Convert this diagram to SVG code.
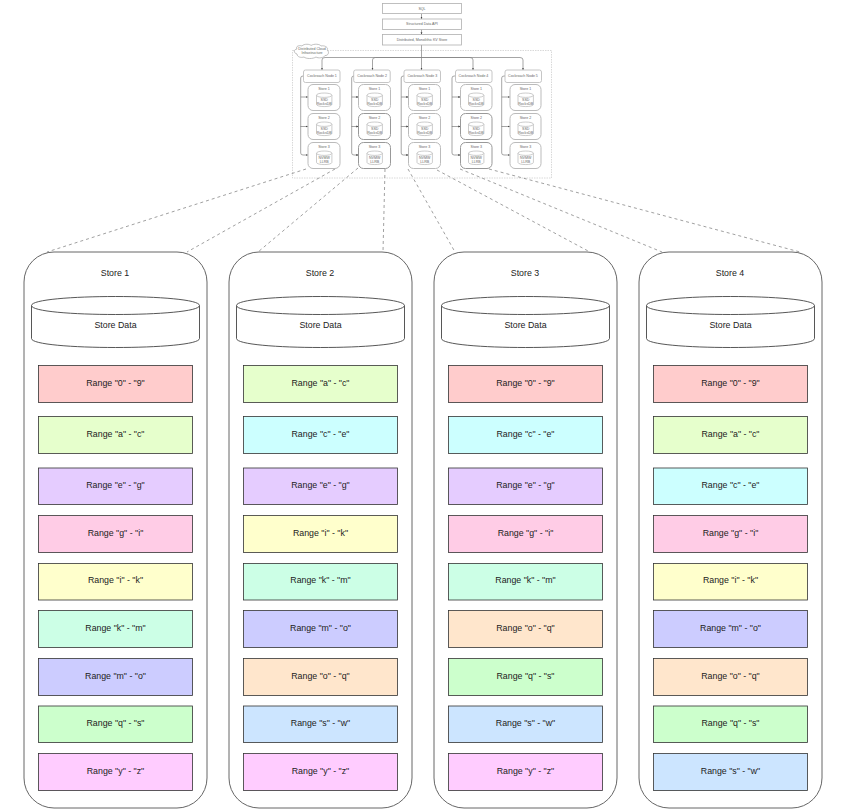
<svg xmlns="http://www.w3.org/2000/svg" width="851" height="811" viewBox="0 0 851 811">
<style>
text{font-family:"Liberation Sans",Arial,sans-serif;text-anchor:middle;dominant-baseline:central;fill:#222}
.lg{font-size:8.8px;transform:translateY(-.5px)}
.sm{font-size:3.6px;fill:#666}
.box{fill:#fff;stroke:#b0b0b0;stroke-width:.8}
.node{fill:#fff;stroke:#b8b8b8;stroke-width:.8}
.sstore{fill:#fff;stroke:#bbb;stroke-width:1}
.sstore.hi{stroke:#999;stroke-width:1}
.store{fill:#fff;stroke:#666;stroke-width:1}
.cyl{fill:#fff;stroke:#444;stroke-width:.9}
.scyl{fill:#fff;stroke:#aaa;stroke-width:.6}
.range{stroke:#333;stroke-width:.8}
.wire{fill:none;stroke:#808080;stroke-width:.7}
.dash{fill:none;stroke:#777;stroke-width:.7;stroke-dasharray:3 3}
.frame{fill:none;stroke:#c8c8c8;stroke-width:.7;stroke-dasharray:1.5 1}
.c0{fill:#ffcccc}.ca{fill:#e6ffcc}.cc{fill:#ccffff}.ce{fill:#e5ccff}.cg{fill:#ffcce6}.ci{fill:#ffffcc}
.ck{fill:#ccffe6}.cm{fill:#ccccff}.co{fill:#ffe6cc}.cq{fill:#ccffcc}.cs{fill:#cce5ff}.cy{fill:#ffccff}
</style>
<defs>
<marker id="tip" viewBox="0 0 6 6" refX="5.500" refY="3" markerWidth="3.500" markerHeight="3.500" orient="auto"><path d="M0 .8L6 3L0 5.200z" fill="#444"/></marker>
<g id="bigcyl"><path class="cyl" d="M0 9C0 -3 168 -3 168 9V42C168 54 0 54 0 42z"/><path class="cyl" d="M0 9C0 21 168 21 168 9"/></g>
<g id="minicyl"><path class="scyl" d="M0 2.200C0 -.7 15.400 -.7 15.400 2.200V11.400C15.400 14.300 0 14.300 0 11.400z"/><path class="scyl" d="M0 2.200C0 5.100 15.400 5.100 15.400 2.200"/></g>
</defs>

<rect class="frame" x="292.500" y="50.500" width="259" height="127.500"/>

<g id="connectors">
<path class="wire" marker-end="url(#tip)" d="M421.500 13.500V19"/>
<path class="wire" marker-end="url(#tip)" d="M421.500 29.500V34.500"/>
<path class="wire" marker-end="url(#tip)" d="M421.500 45V70"/>
<path class="wire" marker-end="url(#tip)" d="M421.500 57.500H325Q322 57.500 322 60V70"/>
<path class="wire" marker-end="url(#tip)" d="M421.500 57.500H375.500Q372.500 57.500 372.500 60V70"/>
<path class="wire" marker-end="url(#tip)" d="M421.500 57.500H470Q473 57.500 473 60V70"/>
<path class="wire" marker-end="url(#tip)" d="M421.500 57.500H520Q523 57.500 523 60V70"/>
<g id="node-1-links"><path class="wire" marker-end="url(#tip)" d="M303.500 76H303Q300.700 76 300.700 78V97H308"/><path class="wire" marker-end="url(#tip)" d="M300.700 97V126.500H308"/><path class="wire" marker-end="url(#tip)" d="M300.700 126V153Q300.700 155 303 155H308"/></g>
<g id="node-2-links"><path class="wire" marker-end="url(#tip)" d="M353.700 76H354Q351.700 76 351.700 78V97H358.500"/><path class="wire" marker-end="url(#tip)" d="M351.700 97V126.500H358.500"/><path class="wire" marker-end="url(#tip)" d="M351.700 126V153Q351.700 155 354 155H358.500"/></g>
<g id="node-3-links"><path class="wire" marker-end="url(#tip)" d="M404 76H403.500Q401.200 76 401.200 78V97H408.500"/><path class="wire" marker-end="url(#tip)" d="M401.200 97V126.500H408.500"/><path class="wire" marker-end="url(#tip)" d="M401.200 126V153Q401.200 155 403.500 155H408.500"/></g>
<g id="node-4-links"><path class="wire" marker-end="url(#tip)" d="M455.500 76H454.300Q452 76 452 78V97H460.500"/><path class="wire" marker-end="url(#tip)" d="M452 97V126.500H460.500"/><path class="wire" marker-end="url(#tip)" d="M452 126V153Q452 155 454.300 155H460.500"/></g>
<g id="node-5-links"><path class="wire" marker-end="url(#tip)" d="M505 76H504Q501.700 76 501.700 78V97H510"/><path class="wire" marker-end="url(#tip)" d="M501.700 97V126.500H510"/><path class="wire" marker-end="url(#tip)" d="M501.700 126V153Q501.700 155 504 155H510"/></g>
<g id="zoom-links">
<path class="dash" d="M306 169L47 252"/><path class="dash" d="M335 169L187 252"/>
<path class="dash" d="M358 168L258 252"/><path class="dash" d="M385 169L383 252"/>
<path class="dash" d="M408 169L455 252"/><path class="dash" d="M437 170L590 252"/>
<path class="dash" d="M460 169L662 252"/><path class="dash" d="M489 169L800 252"/>
</g>
</g>

<g id="sql"><rect class="box" x="382.500" y="3.500" width="79" height="10"/><text class="sm" x="422" y="8.500">SQL</text></g>
<g id="data-api"><rect class="box" x="382.500" y="19" width="79" height="10.500"/><text class="sm" x="422" y="24.200">Structured Data API</text></g>
<g id="kv-store"><rect class="box" x="382.500" y="34.500" width="79" height="10.500"/><text class="sm" x="422" y="39.700">Distributed, Monolithic KV Store</text></g>

<g id="cloud"><path fill="#fff" stroke="#b0b0b0" stroke-width=".8" d="M297 54C293 53 294 49 297 49C295 46 300 45 302 46C304 43.500 310 44 311 45.500C314 43.500 320 44 321 46C325 45 329 48 327 50C330 52 328 56 325 55.500C324 58 318 58.500 316 57C313 59 306 59 304 57C301 58 297 57 297 54z"/><text class="sm" x="312" y="48.500">Distributed Cloud</text><text class="sm" x="312" y="53">Infrastructure</text></g>

<g id="cockroach-node-1"><rect class="node" x="303.500" y="70" width="36.500" height="12.500" rx="2"/><text class="sm" x="322" y="76.200">Cockroach Node 1</text></g>
<g id="cockroach-node-2"><rect class="node" x="353.700" y="70" width="36.500" height="12.500" rx="2"/><text class="sm" x="372.200" y="76.200">Cockroach Node 2</text></g>
<g id="cockroach-node-3"><rect class="node" x="404" y="70" width="36.500" height="12.500" rx="2"/><text class="sm" x="422.300" y="76.200">Cockroach Node 3</text></g>
<g id="cockroach-node-4"><rect class="node" x="455.500" y="70" width="36.500" height="12.500" rx="2"/><text class="sm" x="473.500" y="76.200">Cockroach Node 4</text></g>
<g id="cockroach-node-5"><rect class="node" x="505" y="70" width="36.500" height="12.500" rx="2"/><text class="sm" x="523" y="76.200">Cockroach Node 5</text></g>

<g id="n1-store-1"><rect class="sstore" x="308" y="84.500" width="32" height="26" rx="5"/><text class="sm" x="324" y="88.500">Store 1</text><use href="#minicyl" x="316.500" y="93"/><text class="sm" x="324.200" y="100.300">SSD</text><text class="sm" x="324.200" y="104">RocksDB</text></g>
<g id="n1-store-2"><rect class="sstore" x="308" y="113.500" width="32" height="26" rx="5"/><text class="sm" x="324" y="118">Store 2</text><use href="#minicyl" x="316.500" y="122"/><text class="sm" x="324.200" y="129.300">SSD</text><text class="sm" x="324.200" y="133">RocksDB</text></g>
<g id="n1-store-3"><rect class="sstore" x="308" y="142.500" width="32" height="26" rx="5"/><text class="sm" x="324" y="147">Store 3</text><use href="#minicyl" x="316.500" y="151"/><text class="sm" x="324.200" y="158.300">NVMW</text><text class="sm" x="324.200" y="162">LLRB</text></g>

<g id="n2-store-1"><rect class="sstore" x="358.500" y="84.500" width="32" height="26" rx="5"/><text class="sm" x="374.500" y="88.500">Store 1</text><use href="#minicyl" x="367" y="93"/><text class="sm" x="374.700" y="100.300">SSD</text><text class="sm" x="374.700" y="104">RocksDB</text></g>
<g id="n2-store-2"><rect class="sstore hi" x="358.500" y="113.500" width="32" height="26" rx="5"/><text class="sm" x="374.500" y="118">Store 2</text><use href="#minicyl" x="367" y="122"/><text class="sm" x="374.700" y="129.300">SSD</text><text class="sm" x="374.700" y="133">RocksDB</text></g>
<g id="n2-store-3"><rect class="sstore hi" x="358.500" y="142.500" width="32" height="26" rx="5"/><text class="sm" x="374.500" y="147">Store 3</text><use href="#minicyl" x="367" y="151"/><text class="sm" x="374.700" y="158.300">NVMW</text><text class="sm" x="374.700" y="162">LLRB</text></g>

<g id="n3-store-1"><rect class="sstore" x="408.500" y="84.500" width="32" height="26" rx="5"/><text class="sm" x="424.500" y="88.500">Store 1</text><use href="#minicyl" x="417" y="93"/><text class="sm" x="424.700" y="100.300">SSD</text><text class="sm" x="424.700" y="104">RocksDB</text></g>
<g id="n3-store-2"><rect class="sstore" x="408.500" y="113.500" width="32" height="26" rx="5"/><text class="sm" x="424.500" y="118">Store 2</text><use href="#minicyl" x="417" y="122"/><text class="sm" x="424.700" y="129.300">SSD</text><text class="sm" x="424.700" y="133">RocksDB</text></g>
<g id="n3-store-3"><rect class="sstore" x="408.500" y="142.500" width="32" height="26" rx="5"/><text class="sm" x="424.500" y="147">Store 3</text><use href="#minicyl" x="417" y="151"/><text class="sm" x="424.700" y="158.300">NVMW</text><text class="sm" x="424.700" y="162">LLRB</text></g>

<g id="n4-store-1"><rect class="sstore" x="460.500" y="84.500" width="31.500" height="26" rx="5"/><text class="sm" x="476.300" y="88.500">Store 1</text><use href="#minicyl" x="468.500" y="93"/><text class="sm" x="476.200" y="100.300">SSD</text><text class="sm" x="476.200" y="104">RocksDB</text></g>
<g id="n4-store-2"><rect class="sstore hi" x="460.500" y="113.500" width="31.500" height="26" rx="5"/><text class="sm" x="476.300" y="118">Store 2</text><use href="#minicyl" x="468.500" y="122"/><text class="sm" x="476.200" y="129.300">SSD</text><text class="sm" x="476.200" y="133">RocksDB</text></g>
<g id="n4-store-3"><rect class="sstore hi" x="460.500" y="142.500" width="31.500" height="26" rx="5"/><text class="sm" x="476.300" y="147">Store 3</text><use href="#minicyl" x="468.500" y="151"/><text class="sm" x="476.200" y="158.300">NVMW</text><text class="sm" x="476.200" y="162">LLRB</text></g>

<g id="n5-store-1"><rect class="sstore" x="510" y="84.500" width="31" height="26" rx="5"/><text class="sm" x="525.500" y="88.500">Store 1</text><use href="#minicyl" x="518" y="93"/><text class="sm" x="525.700" y="100.300">SSD</text><text class="sm" x="525.700" y="104">RocksDB</text></g>
<g id="n5-store-2"><rect class="sstore" x="510" y="113.500" width="31" height="26" rx="5"/><text class="sm" x="525.500" y="118">Store 2</text><use href="#minicyl" x="518" y="122"/><text class="sm" x="525.700" y="129.300">SSD</text><text class="sm" x="525.700" y="133">RocksDB</text></g>
<g id="n5-store-3"><rect class="sstore" x="510" y="142.500" width="31" height="26" rx="5"/><text class="sm" x="525.500" y="147">Store 3</text><use href="#minicyl" x="518" y="151"/><text class="sm" x="525.700" y="158.300">NVMW</text><text class="sm" x="525.700" y="162">LLRB</text></g>

<g id="store-1">
<rect class="store" x="24" y="252" width="183" height="556" rx="30"/>
<text class="lg" x="115" y="273.500">Store 1</text>
<use href="#bigcyl" x="31.500" y="296.500"/><text class="lg" x="115.500" y="325.500">Store Data</text>
<rect class="range c0" x="38.500" y="365.500" width="154" height="37"/><text class="lg" x="115.500" y="383">Range "0" - "9"</text>
<rect class="range ca" x="38.500" y="416.500" width="154" height="37"/><text class="lg" x="115.500" y="434">Range "a" - "c"</text>
<rect class="range ce" x="38.500" y="468" width="154" height="36.500"/><text class="lg" x="115.500" y="485.500">Range "e" - "g"</text>
<rect class="range cg" x="38.500" y="515.500" width="154" height="37"/><text class="lg" x="115.500" y="533">Range "g" - "i"</text>
<rect class="range ci" x="38.500" y="563.500" width="154" height="36.500"/><text class="lg" x="115.500" y="580.500">Range "i" - "k"</text>
<rect class="range ck" x="38.500" y="610.500" width="154" height="37"/><text class="lg" x="115.500" y="628">Range "k" - "m"</text>
<rect class="range cm" x="38.500" y="658.500" width="154" height="37"/><text class="lg" x="115.500" y="676">Range "m" - "o"</text>
<rect class="range cq" x="38.500" y="706" width="154" height="36.500"/><text class="lg" x="115.500" y="723.500">Range "q" - "s"</text>
<rect class="range cy" x="38.500" y="753.500" width="154" height="37"/><text class="lg" x="115.500" y="771">Range "y" - "z"</text>
</g>

<g id="store-2">
<rect class="store" x="229" y="252" width="183" height="556" rx="30"/>
<text class="lg" x="320" y="273.500">Store 2</text>
<use href="#bigcyl" x="236.500" y="296.500"/><text class="lg" x="320.500" y="325.500">Store Data</text>
<rect class="range ca" x="243.500" y="365.500" width="154" height="37"/><text class="lg" x="320.500" y="383">Range "a" - "c"</text>
<rect class="range cc" x="243.500" y="416.500" width="154" height="37"/><text class="lg" x="320.500" y="434">Range "c" - "e"</text>
<rect class="range ce" x="243.500" y="468" width="154" height="36.500"/><text class="lg" x="320.500" y="485.500">Range "e" - "g"</text>
<rect class="range ci" x="243.500" y="515.500" width="154" height="37"/><text class="lg" x="320.500" y="533">Range "i" - "k"</text>
<rect class="range ck" x="243.500" y="563.500" width="154" height="36.500"/><text class="lg" x="320.500" y="580.500">Range "k" - "m"</text>
<rect class="range cm" x="243.500" y="610.500" width="154" height="37"/><text class="lg" x="320.500" y="628">Range "m" - "o"</text>
<rect class="range co" x="243.500" y="658.500" width="154" height="37"/><text class="lg" x="320.500" y="676">Range "o" - "q"</text>
<rect class="range cs" x="243.500" y="706" width="154" height="36.500"/><text class="lg" x="320.500" y="723.500">Range "s" - "w"</text>
<rect class="range cy" x="243.500" y="753.500" width="154" height="37"/><text class="lg" x="320.500" y="771">Range "y" - "z"</text>
</g>

<g id="store-3">
<rect class="store" x="434" y="252" width="183" height="556" rx="30"/>
<text class="lg" x="525" y="273.500">Store 3</text>
<use href="#bigcyl" x="441.500" y="296.500"/><text class="lg" x="525.500" y="325.500">Store Data</text>
<rect class="range c0" x="448.500" y="365.500" width="154" height="37"/><text class="lg" x="525.500" y="383">Range "0" - "9"</text>
<rect class="range cc" x="448.500" y="416.500" width="154" height="37"/><text class="lg" x="525.500" y="434">Range "c" - "e"</text>
<rect class="range ce" x="448.500" y="468" width="154" height="36.500"/><text class="lg" x="525.500" y="485.500">Range "e" - "g"</text>
<rect class="range cg" x="448.500" y="515.500" width="154" height="37"/><text class="lg" x="525.500" y="533">Range "g" - "i"</text>
<rect class="range ck" x="448.500" y="563.500" width="154" height="36.500"/><text class="lg" x="525.500" y="580.500">Range "k" - "m"</text>
<rect class="range co" x="448.500" y="610.500" width="154" height="37"/><text class="lg" x="525.500" y="628">Range "o" - "q"</text>
<rect class="range cq" x="448.500" y="658.500" width="154" height="37"/><text class="lg" x="525.500" y="676">Range "q" - "s"</text>
<rect class="range cs" x="448.500" y="706" width="154" height="36.500"/><text class="lg" x="525.500" y="723.500">Range "s" - "w"</text>
<rect class="range cy" x="448.500" y="753.500" width="154" height="37"/><text class="lg" x="525.500" y="771">Range "y" - "z"</text>
</g>

<g id="store-4">
<rect class="store" x="639" y="252" width="183" height="556" rx="30"/>
<text class="lg" x="730" y="273.500">Store 4</text>
<use href="#bigcyl" x="646.500" y="296.500"/><text class="lg" x="730.500" y="325.500">Store Data</text>
<rect class="range c0" x="653.500" y="365.500" width="154" height="37"/><text class="lg" x="730.500" y="383">Range "0" - "9"</text>
<rect class="range ca" x="653.500" y="416.500" width="154" height="37"/><text class="lg" x="730.500" y="434">Range "a" - "c"</text>
<rect class="range cc" x="653.500" y="468" width="154" height="36.500"/><text class="lg" x="730.500" y="485.500">Range "c" - "e"</text>
<rect class="range cg" x="653.500" y="515.500" width="154" height="37"/><text class="lg" x="730.500" y="533">Range "g" - "i"</text>
<rect class="range ci" x="653.500" y="563.500" width="154" height="36.500"/><text class="lg" x="730.500" y="580.500">Range "i" - "k"</text>
<rect class="range cm" x="653.500" y="610.500" width="154" height="37"/><text class="lg" x="730.500" y="628">Range "m" - "o"</text>
<rect class="range co" x="653.500" y="658.500" width="154" height="37"/><text class="lg" x="730.500" y="676">Range "o" - "q"</text>
<rect class="range cq" x="653.500" y="706" width="154" height="36.500"/><text class="lg" x="730.500" y="723.500">Range "q" - "s"</text>
<rect class="range cs" x="653.500" y="753.500" width="154" height="37"/><text class="lg" x="730.500" y="771">Range "s" - "w"</text>
</g>
</svg>
